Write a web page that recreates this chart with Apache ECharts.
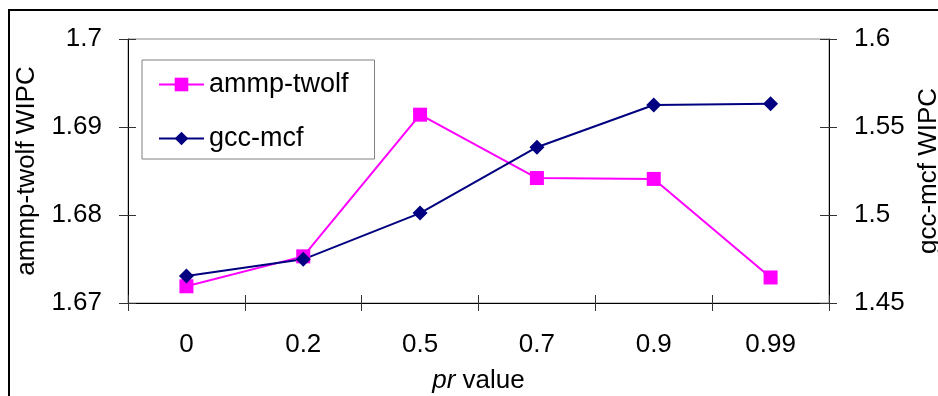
<!DOCTYPE html>
<html>
<head>
<meta charset="utf-8">
<script src="https://cdn.jsdelivr.net/npm/echarts@6/dist/echarts.min.js"></script>
<style>
html,body{margin:0;padding:0;background:#fff;}
#chart{width:938px;height:396px;}
</style>
</head>
<body>
<div id="chart"></div>
<script>
const categories = ['0', '0.2', '0.5', '0.7', '0.9', '0.99'];
const ammpTwolf = [1.6719, 1.6753, 1.6914, 1.6842, 1.6841, 1.6729];
const gccMcf = [1.4653, 1.4748, 1.5011, 1.5385, 1.5625, 1.5632];
const leftTicks = { min: 1.67, max: 1.70, interval: 0.01 };
const rightTicks = { min: 1.45, max: 1.60, interval: 0.05 };

const FONT = '"Liberation Sans", Arial, sans-serif';
const FS = 26;
const fmt = v => String(parseFloat(v.toFixed(4)));

const chart = echarts.init(document.getElementById('chart'), null, {renderer: 'canvas'});
chart.setOption({
  animation: false,
  backgroundColor: '#fff',
  textStyle: { fontFamily: FONT, color: '#000' },
  graphic: [{
    type: 'rect', silent: true, z: 100,
    shape: { x: 9, y: 10, width: 2000, height: 2000 },
    style: { fill: 'none', stroke: '#000', lineWidth: 2 }
  }],
  grid: {
    left: 128, right: 109, top: 39, bottom: 93,
    outerBoundsMode: 'none', containLabel: false,
    show: true, borderColor: '#8c8c8c', borderWidth: 1, backgroundColor: 'transparent'
  },
  legend: {
    orient: 'vertical', left: 142, top: 60,
    data: ['ammp-twolf', 'gcc-mcf'],
    backgroundColor: '#fff', borderColor: '#808080', borderWidth: 1,
    padding: [11, 26, 7, 16], itemGap: 27,
    itemWidth: 45, itemHeight: 17,
    textStyle: { fontFamily: FONT, fontSize: 27, color: '#000', lineHeight: 26 }
  },
  xAxis: [{
    type: 'category', data: categories, position: 'bottom', boundaryGap: true,
    axisLine: { lineStyle: { color: '#000', width: 1 } },
    axisTick: { show: true, inside: false, length: 8, lineStyle: { color: '#333' } },
    axisLabel: { fontFamily: FONT, fontSize: FS, color: '#000', margin: 29 },
    name: '{i|pr} value', nameLocation: 'middle', nameGap: 65,
    nameTextStyle: { fontFamily: FONT, fontSize: FS, color: '#000',
      rich: { i: { fontFamily: FONT, fontSize: FS, fontStyle: 'italic', color: '#000' } } }
  }, {
    type: 'category', data: categories, position: 'bottom', boundaryGap: true,
    axisLine: { show: false },
    axisTick: { show: true, inside: true, length: 8, lineStyle: { color: '#333' } },
    axisLabel: { show: false }
  }],
  yAxis: [{
    type: 'value', position: 'left',
    min: leftTicks.min, max: leftTicks.max, interval: leftTicks.interval,
    axisLine: { show: true, lineStyle: { color: '#000', width: 1 } },
    axisTick: { show: true, inside: false, length: 9, lineStyle: { color: '#333' } },
    splitLine: { show: false },
    axisLabel: { fontFamily: FONT, fontSize: FS, color: '#000', margin: 26, formatter: fmt },
    name: 'ammp-twolf WIPC', nameLocation: 'middle', nameGap: 88, nameRotate: 90,
    nameTextStyle: { fontFamily: FONT, fontSize: FS, color: '#000' }
  }, {
    type: 'value', position: 'right',
    min: rightTicks.min, max: rightTicks.max, interval: rightTicks.interval,
    axisLine: { show: true, lineStyle: { color: '#000', width: 1 } },
    axisTick: { show: true, inside: false, length: 8, lineStyle: { color: '#333' } },
    splitLine: { show: false },
    axisLabel: { fontFamily: FONT, fontSize: FS, color: '#000', margin: 25, formatter: fmt },
    name: 'gcc-mcf WIPC', nameLocation: 'middle', nameGap: 77, nameRotate: 90,
    nameTextStyle: { fontFamily: FONT, fontSize: FS, color: '#000' }
  }, {
    type: 'value', position: 'left',
    min: leftTicks.min, max: leftTicks.max, interval: leftTicks.interval,
    axisLine: { show: false }, splitLine: { show: false }, axisLabel: { show: false },
    axisTick: { show: true, inside: true, length: 8, lineStyle: { color: '#333' } }
  }, {
    type: 'value', position: 'right',
    min: rightTicks.min, max: rightTicks.max, interval: rightTicks.interval,
    axisLine: { show: false }, splitLine: { show: false }, axisLabel: { show: false },
    axisTick: { show: true, inside: true, length: 9, lineStyle: { color: '#333' } }
  }],
  series: [{
    name: 'ammp-twolf', type: 'line', xAxisIndex: 0, yAxisIndex: 0,
    data: ammpTwolf, symbol: 'rect', symbolSize: 14,
    itemStyle: { color: '#FF00FF' }, lineStyle: { color: '#FF00FF', width: 2 }
  }, {
    name: 'gcc-mcf', type: 'line', xAxisIndex: 0, yAxisIndex: 1,
    data: gccMcf, symbol: 'diamond', symbolSize: 15,
    itemStyle: { color: '#000080' }, lineStyle: { color: '#000080', width: 2 }
  }]
});
</script>
</body>
</html>
